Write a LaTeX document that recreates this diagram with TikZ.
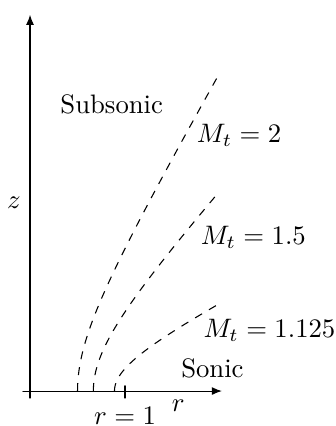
\documentclass[tikz,border=0pt]{standalone}
\usepackage{amsmath,amssymb}
\usepackage{tikz}
\usetikzlibrary{arrows.meta}

\begin{document}
\begin{tikzpicture}[x=1.25cm,y=1.25cm,>={Latex[length=3.8pt,width=3pt]}, line join=round, line cap=round]
	\useasboundingbox (-0.316,-0.368) rectangle (3.22,4.116);
	\coordinate (O) at (0,0);
	\coordinate (Xs) at (-0.074,0);
	\coordinate (Xe) at (2.02,0);
	\coordinate (Ys) at (0,-0.074);
	\coordinate (Ye) at (0,3.96);
	\coordinate (Tb) at (1,-0.074);
	\coordinate (Tt) at (1,0.055);
	\draw[->] (Xs) -- (Xe);
	\draw[->] (Ys) -- (Ye);
	\draw (Tb) -- (Tt);
	\node[below] (runit) at (Tb) {$r=1$};
	\node (rlab) at (1.56,-0.15) {$r$};
	\node (zlab) at (-0.17,1.98) {$z$};
	% sonic lines z = sqrt(M^2-1) sqrt(r^2-1/M^2)
	\foreach \M in {2,1.5,1.125}{
		\pgfmathsetmacro{\T}{ln(2*\M+sqrt(4*\M*\M-1))}
		\draw[dashed,line cap=butt] plot[domain=0:\T,samples=60,variable=\t,smooth]
			({cosh(\t)/\M},{sqrt(\M*\M-1)*sinh(\t)/\M});
	}
	\node (sub) at (0.86,3.02) {Subsonic};
	\node (son) at (1.92,0.24) {Sonic};
	\node (m2) at (2.20,2.69) {$M_t=2$};
	\node (m15) at (2.35,1.62) {$M_t=1.5$};
	\node (m1125) at (2.52,0.64) {$M_t=1.125$};
\end{tikzpicture}
\end{document}
